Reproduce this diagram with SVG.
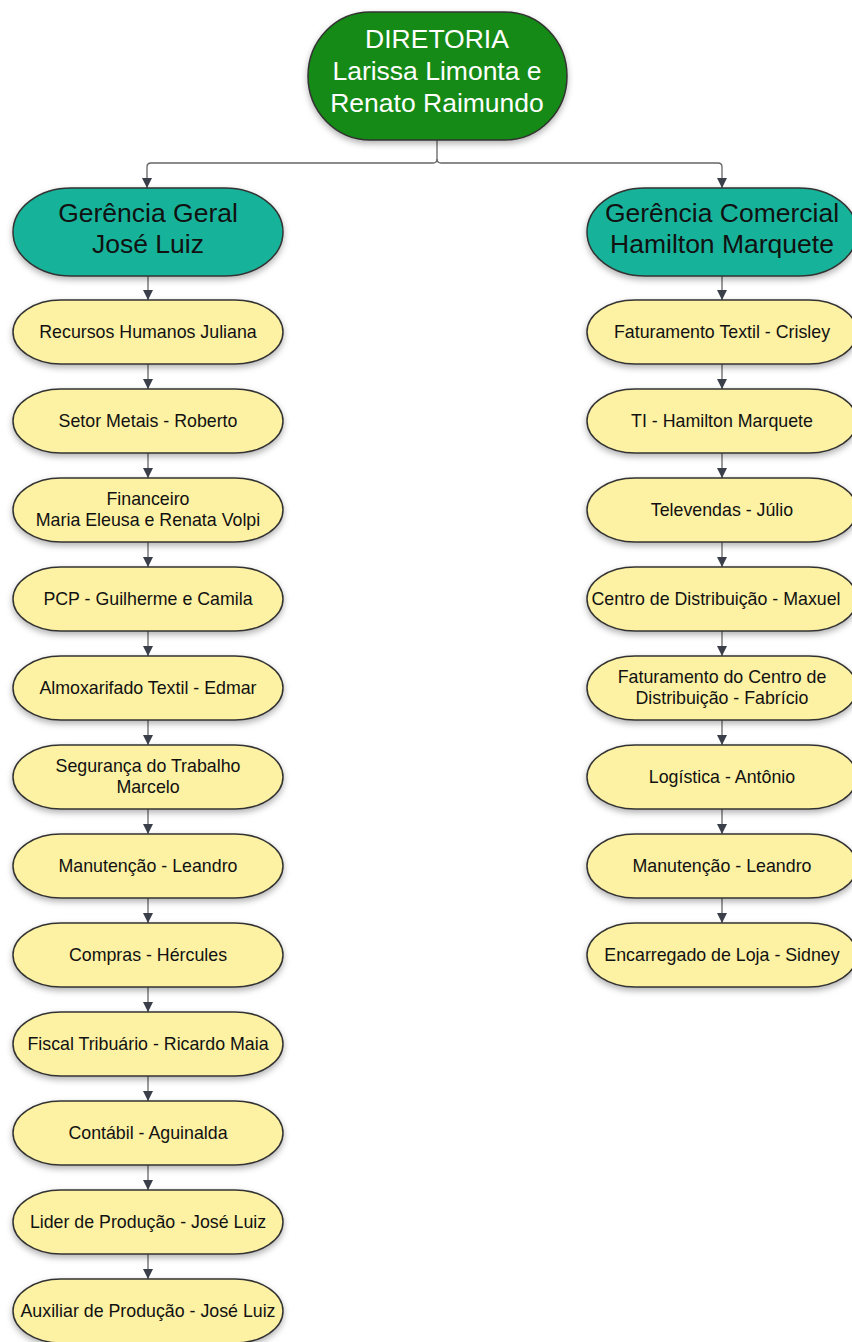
<svg xmlns="http://www.w3.org/2000/svg" width="852" height="1342" viewBox="0 0 852 1342">
<style>
.n{stroke:#333;stroke-width:1.5;filter:url(#sh)}
.dir{fill:#128a12}
.ger{fill:#17b39a}
.y{fill:#fdf1a3}
.t{font-family:"Liberation Sans",Arial,sans-serif;text-anchor:middle}
.tw{fill:#fff;font-size:26.5px}
.tg{fill:#111;font-size:26.5px}
.ty{fill:#111;font-size:17.8px}
.c{fill:none;stroke:#666;stroke-width:1.3}
</style>
<defs>
<filter id="sh" x="-20%" y="-30%" width="140%" height="170%">
<feDropShadow dx="0" dy="3" stdDeviation="3" flood-color="#000" flood-opacity="0.3"/>
</filter>
<marker id="ar" markerUnits="userSpaceOnUse" markerWidth="10" markerHeight="12" refX="10" refY="5" orient="auto" viewBox="0 0 10 10">
<path d="M0,0 L10,5 L0,10 z" fill="#3a3f4a"/>
</marker>
</defs>
<g id="connectors">
<path class="c" d="M437,140 V159 Q437,163 433,163 H151 Q147,163 147,167 V188" marker-end="url(#ar)"/>
<path class="c" d="M437,159 Q437,163 441,163 H718 Q722,163 722,167 V188" marker-end="url(#ar)"/>
<path class="c" d="M148,276 V300" marker-end="url(#ar)"/>
<path class="c" d="M148,364 V389" marker-end="url(#ar)"/>
<path class="c" d="M148,453 V478" marker-end="url(#ar)"/>
<path class="c" d="M148,542 V567" marker-end="url(#ar)"/>
<path class="c" d="M148,631 V656" marker-end="url(#ar)"/>
<path class="c" d="M148,720 V745" marker-end="url(#ar)"/>
<path class="c" d="M148,809 V834" marker-end="url(#ar)"/>
<path class="c" d="M148,898 V923" marker-end="url(#ar)"/>
<path class="c" d="M148,987 V1012" marker-end="url(#ar)"/>
<path class="c" d="M148,1076 V1101" marker-end="url(#ar)"/>
<path class="c" d="M148,1165 V1190" marker-end="url(#ar)"/>
<path class="c" d="M148,1254 V1279" marker-end="url(#ar)"/>
<path class="c" d="M722,276 V300" marker-end="url(#ar)"/>
<path class="c" d="M722,364 V389" marker-end="url(#ar)"/>
<path class="c" d="M722,453 V478" marker-end="url(#ar)"/>
<path class="c" d="M722,542 V567" marker-end="url(#ar)"/>
<path class="c" d="M722,631 V656" marker-end="url(#ar)"/>
<path class="c" d="M722,720 V745" marker-end="url(#ar)"/>
<path class="c" d="M722,809 V834" marker-end="url(#ar)"/>
<path class="c" d="M722,898 V923" marker-end="url(#ar)"/>
</g>
<g id="diretoria">
<rect class="n dir" x="308" y="12" width="259" height="128" rx="62" ry="64"/>
<text class="t tw" x="437" y="48">DIRETORIA</text>
<text class="t tw" x="437" y="80">Larissa Limonta e</text>
<text class="t tw" x="437" y="112">Renato Raimundo</text>
</g>
<g id="gerencia-geral">
<rect class="n ger" x="13" y="188" width="270" height="88" rx="58" ry="44"/>
<text class="t tg" x="148" y="222">Gerência Geral</text>
<text class="t tg" x="148" y="253">José Luiz</text>
</g>
<g id="gerencia-comercial">
<rect class="n ger" x="587" y="188" width="270" height="88" rx="58" ry="44"/>
<text class="t tg" x="722" y="222">Gerência Comercial</text>
<text class="t tg" x="722" y="253">Hamilton Marquete</text>
</g>
<g id="l1"><rect class="n y" x="13" y="300" width="270" height="64" rx="48" ry="32"/><text class="t ty" x="148" y="338">Recursos Humanos Juliana</text></g>
<g id="l2"><rect class="n y" x="13" y="389" width="270" height="64" rx="48" ry="32"/><text class="t ty" x="148" y="427">Setor Metais - Roberto</text></g>
<g id="l3"><rect class="n y" x="13" y="478" width="270" height="64" rx="48" ry="32"/><text class="t ty" x="148" y="505">Financeiro</text><text class="t ty" x="148" y="526">Maria Eleusa e Renata Volpi</text></g>
<g id="l4"><rect class="n y" x="13" y="567" width="270" height="64" rx="48" ry="32"/><text class="t ty" x="148" y="605">PCP - Guilherme e Camila</text></g>
<g id="l5"><rect class="n y" x="13" y="656" width="270" height="64" rx="48" ry="32"/><text class="t ty" x="148" y="694">Almoxarifado Textil - Edmar</text></g>
<g id="l6"><rect class="n y" x="13" y="745" width="270" height="64" rx="48" ry="32"/><text class="t ty" x="148" y="772">Segurança do Trabalho</text><text class="t ty" x="148" y="793">Marcelo</text></g>
<g id="l7"><rect class="n y" x="13" y="834" width="270" height="64" rx="48" ry="32"/><text class="t ty" x="148" y="872">Manutenção - Leandro</text></g>
<g id="l8"><rect class="n y" x="13" y="923" width="270" height="64" rx="48" ry="32"/><text class="t ty" x="148" y="961">Compras - Hércules</text></g>
<g id="l9"><rect class="n y" x="13" y="1012" width="270" height="64" rx="48" ry="32"/><text class="t ty" x="148" y="1050">Fiscal Tribuário - Ricardo Maia</text></g>
<g id="l10"><rect class="n y" x="13" y="1101" width="270" height="64" rx="48" ry="32"/><text class="t ty" x="148" y="1139">Contábil - Aguinalda</text></g>
<g id="l11"><rect class="n y" x="13" y="1190" width="270" height="64" rx="48" ry="32"/><text class="t ty" x="148" y="1228">Lider de Produção - José Luiz</text></g>
<g id="l12"><rect class="n y" x="13" y="1279" width="270" height="64" rx="48" ry="32"/><text class="t ty" x="148" y="1317">Auxiliar de Produção - José Luiz</text></g>
<g id="r1"><rect class="n y" x="587" y="300" width="270" height="64" rx="48" ry="32"/><text class="t ty" x="722" y="338">Faturamento Textil - Crisley</text></g>
<g id="r2"><rect class="n y" x="587" y="389" width="270" height="64" rx="48" ry="32"/><text class="t ty" x="722" y="427">TI - Hamilton Marquete</text></g>
<g id="r3"><rect class="n y" x="587" y="478" width="270" height="64" rx="48" ry="32"/><text class="t ty" x="722" y="516">Televendas - Júlio</text></g>
<g id="r4"><rect class="n y" x="587" y="567" width="270" height="64" rx="48" ry="32"/><text class="t ty" x="716" y="605">Centro de Distribuição - Maxuel</text></g>
<g id="r5"><rect class="n y" x="587" y="656" width="270" height="64" rx="48" ry="32"/><text class="t ty" x="722" y="683">Faturamento do Centro de</text><text class="t ty" x="722" y="704">Distribuição - Fabrício</text></g>
<g id="r6"><rect class="n y" x="587" y="745" width="270" height="64" rx="48" ry="32"/><text class="t ty" x="722" y="783">Logística - Antônio</text></g>
<g id="r7"><rect class="n y" x="587" y="834" width="270" height="64" rx="48" ry="32"/><text class="t ty" x="722" y="872">Manutenção - Leandro</text></g>
<g id="r8"><rect class="n y" x="587" y="923" width="270" height="64" rx="48" ry="32"/><text class="t ty" x="722" y="961">Encarregado de Loja - Sidney</text></g>
</svg>
